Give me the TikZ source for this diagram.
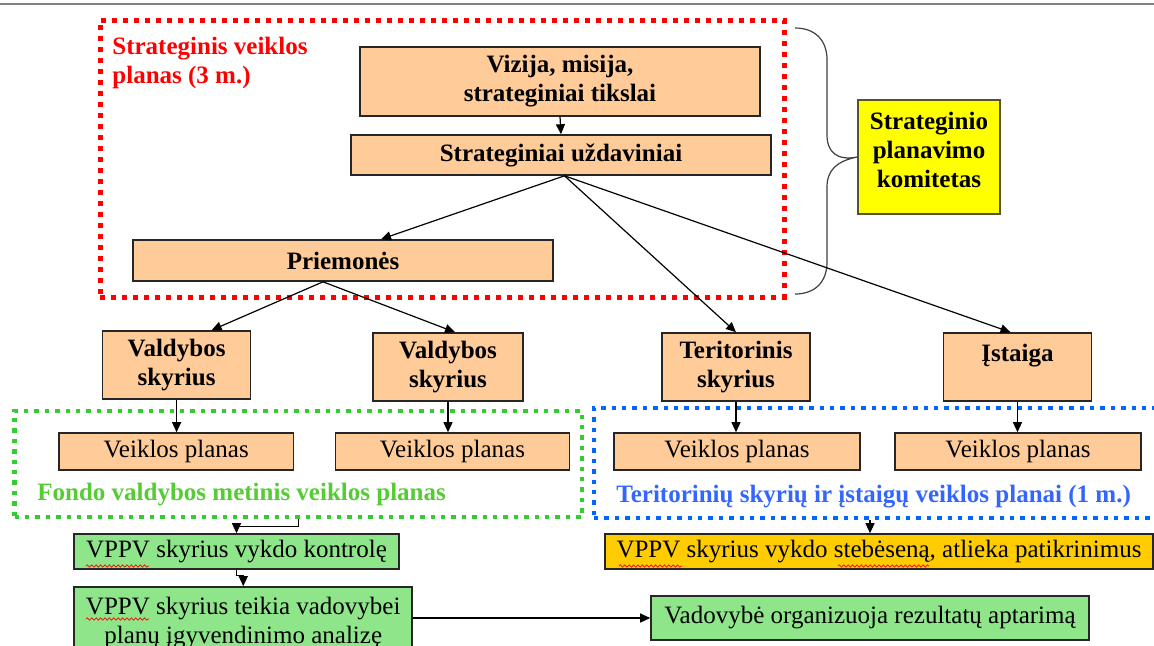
\documentclass[tikz,border=0pt]{standalone}
\usepackage{fontspec}
\setmainfont{Liberation Serif}
\usetikzlibrary{arrows.meta,decorations.pathmorphing,calc}
\definecolor{boxorange}{HTML}{FFCC99}
\definecolor{boxgreen}{HTML}{8FE68A}
\definecolor{boxgold}{HTML}{FFCC00}
\definecolor{boxyellow}{HTML}{FFFF00}
\definecolor{dotred}{HTML}{FF0000}
\definecolor{dotgreen}{HTML}{33CC33}
\definecolor{dotblue}{HTML}{0066FF}
\definecolor{txtgreen}{HTML}{55CC33}
\definecolor{txtblue}{HTML}{3366FF}
\definecolor{rulegray}{HTML}{808080}
\begin{document}
\begin{tikzpicture}[x=0.5pt,y=-0.5pt,
  txt/.style={font=\fontsize{12.5pt}{14.5pt}\selectfont},
  basebox/.style={draw=black!85, line width=0.8pt, inner sep=0pt, align=center, txt},
  obox/.style={basebox, fill=boxorange, font=\fontsize{12.5pt}{14.5pt}\selectfont\bfseries},
  planbox/.style={basebox, fill=boxorange},
  gbox/.style={basebox, fill=boxgreen},
  goldbox/.style={basebox, fill=boxgold},
  ybox/.style={basebox, draw=black!50!olive, fill=boxyellow, font=\fontsize{12.5pt}{14.5pt}\selectfont\bfseries},
  frame/.style={inner sep=0pt, line cap=butt},
  redframe/.style={frame, draw=dotred, line width=2.5pt, dash pattern=on 2.5pt off 3pt},
  greenframe/.style={frame, draw=dotgreen, line width=2.2pt, dash pattern=on 2.2pt off 3pt},
  blueframe/.style={frame, draw=dotblue, line width=2.2pt, dash pattern=on 2.2pt off 3pt},
  arr/.style={draw=black, line width=0.6pt, -{Triangle[length=5pt,width=4.5pt]}},
  conn/.style={draw=black, line width=0.6pt},
  brace/.style={draw=black!75, line width=0.6pt},
  spell/.style={draw=red, line width=0.35pt, decorate, decoration={snake, amplitude=0.6pt, segment length=2.2pt}}
]
\useasboundingbox (0,0) rectangle (1154,645);
\clip (0,0) rectangle (1154,645);
\fill[white] (0,0) rectangle (1154,645);
\draw[rulegray, line width=1.2pt] (0,4) -- (1154,4);

% dotted frames
\node[redframe, minimum width=342pt, minimum height=138.5pt] (red) at (442,158.5) {};
\node[greenframe, minimum width=283.75pt, minimum height=53pt] (green) at (298.25,464) {};
\node[blueframe, minimum width=290pt, minimum height=55pt] (blue) at (884,463) {};

% frame labels
\node[txt, font=\fontsize{12.5pt}{14.5pt}\selectfont\bfseries, text=dotred, align=left, anchor=north west, inner sep=0pt] (redlbl) at (112,37) {Strateginis veiklos\\planas (3 m.)};
\node[txt, font=\fontsize{12.5pt}{14.5pt}\selectfont\bfseries, text=txtgreen, anchor=base west, inner sep=0pt] (greenlbl) at (37,500) {Fondo valdybos metinis veiklos planas};
\node[txt, font=\fontsize{12.5pt}{14.5pt}\selectfont\bfseries, text=txtblue, anchor=base west, inner sep=0pt] (bluelbl) at (616,502) {Teritorinių skyrių ir įstaigų veiklos planai (1 m.)};

% strategic boxes
\node[obox, minimum width=200pt, minimum height=34.5pt] (viz) at (560,81.5) {Vizija, misija,\\strateginiai tikslai};
\node[obox, minimum width=210pt, minimum height=20pt] (uzd) at (561,155) {Strateginiai uždaviniai};
\node[obox, minimum width=210pt, minimum height=20.5pt] (prie) at (343,260.5) {Priemonės};

% brace and committee
\node[ybox, minimum width=71pt, minimum height=57pt, text depth=7pt] (kom) at (929,157) {Strateginio\\planavimo\\komitetas};
\draw[brace] (795,28) .. controls (815,28) and (827,40) .. (827,60) -- (827,135)
  .. controls (827,152) and (837,161) .. (kom.west)
  .. controls (837,161) and (827,170) .. (827,187) -- (827,262)
  .. controls (827,282) and (815,294) .. (795,294);

% units
\node[obox, minimum width=74pt, minimum height=34pt] (val1) at (176.6,365) {Valdybos\\skyrius};
\node[obox, minimum width=75pt, minimum height=34pt] (val2) at (448,367) {Valdybos\\skyrius};
\node[obox, minimum width=74pt, minimum height=34pt] (ter) at (736,367) {Teritorinis\\skyrius};
\node[obox, minimum width=74pt, minimum height=34pt] (ist) at (1017.5,367) {Įstaiga\\\mbox{}};

% plans
\node[planbox, minimum width=117.25pt, minimum height=18.5pt] (vp1) at (176.25,451.5) {Veiklos planas};
\node[planbox, minimum width=117pt, minimum height=18.5pt] (vp2) at (452.5,451.5) {Veiklos planas};
\node[planbox, minimum width=123pt, minimum height=18.5pt] (vp3) at (737,451.5) {Veiklos planas};
\node[planbox, minimum width=123pt, minimum height=18.5pt] (vp4) at (1018,451.5) {Veiklos planas};

% control boxes
\node[gbox, minimum width=162.5pt, minimum height=17.5pt] (kontr) at (236.5,551.5) {VPPV skyrius vykdo kontrolę};
\node[gbox, minimum width=169pt, minimum height=36.5pt] (teik) at (243.25,623.5) {VPPV skyrius teikia vadovybei\\planų įgyvendinimo analizę};
\node[goldbox, minimum width=274pt, minimum height=17.5pt] (steb) at (879,551.5) {VPPV skyrius vykdo stebėseną, atlieka patikrinimus};
\node[gbox, minimum width=219pt, minimum height=22pt] (vad) at (870,618) {Vadovybė organizuoja rezultatų aptarimą};

% connectors
\draw[arr] (viz.south) -- (uzd.north);
\draw[arr] ([xshift=1.75pt]uzd.south) -- ([xshift=19pt]prie.north);
\draw[arr] ([xshift=1.75pt]uzd.south) -- (ter.north);
\draw[arr] ([xshift=1.75pt]uzd.south) -- ([xshift=-3.5pt]ist.north);
\draw[arr] ([xshift=-10pt]prie.south) -- ([xshift=17.5pt]val1.north);
\draw[arr] ([xshift=-10pt]prie.south) -- ([xshift=3.5pt]val2.north);
\draw[arr] (val1.south) -- (val1.south |- vp1.north);
\draw[arr] (val2.south) -- (val2.south |- vp2.north);
\draw[arr] (ter.south) -- (ter.south |- vp3.north);
\draw[arr] (ist.south) -- (ist.south |- vp4.north);
\draw[arr] (green.south) -- ++(0,7) -| (kontr.north);
\draw[arr] (kontr.south) -- ++(0,6) -| (teik.north);
\draw[arr] ([xshift=-4.5pt]steb.north |- blue.south) -- ([xshift=-4.5pt]steb.north);
\draw[arr] (teik.east |- vad.west) -- (vad.west);

% spelling marks
\draw[spell] (86,566) -- (149,566);
\draw[spell] (86,619) -- (149,619);
\draw[spell] (619,566) -- (682,566);
\draw[spell] (838,566) -- (929,566);
\end{tikzpicture}
\end{document}
